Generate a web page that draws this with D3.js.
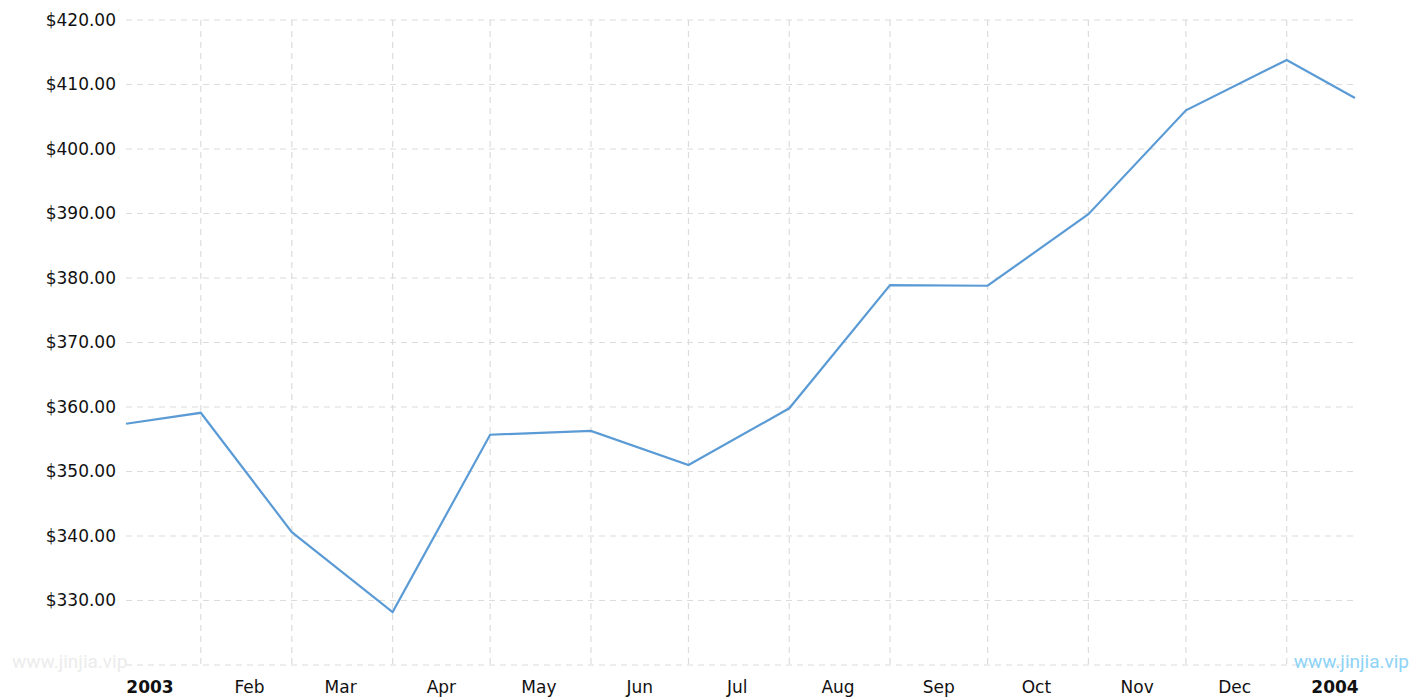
<!DOCTYPE html>
<meta charset="utf-8">
<style>
body { margin: 0; background: #fff; }
text { font-family: 'DejaVu Sans', Verdana, sans-serif; }
.grid line { stroke: #dcdcdc; stroke-dasharray: 6,5; stroke-width: 1.2; }
.wm { font-family: 'Roboto', sans-serif; font-size: 19px; font-weight: 400; }
</style>
<body>
<div class="viz"></div>
<script src="https://d3js.org/d3.v7.min.js"></script>
<script>
// monthly price points (date, value)
const dates = ["2003-01-09","2003-02-01","2003-03-01","2003-04-01","2003-05-01","2003-06-01","2003-07-01",
  "2003-08-01","2003-09-01","2003-10-01","2003-11-01","2003-12-01","2004-01-01","2004-01-22"];
const prices = [357.4, 359.1, 340.6, 328.2, 355.7, 356.3, 351.0, 359.8, 378.9, 378.8, 389.9, 406.0, 413.8, 407.9];
const yTicks = [320, 330, 340, 350, 360, 370, 380, 390, 400, 410, 420];
const monthLabels = ["2003","Feb","Mar","Apr","May","Jun","Jul","Aug","Sep","Oct","Nov","Dec","2004"];

const W = 1415, H = 700;
const margin = {top: 20, right: 60, bottom: 35, left: 126},
  width = W - margin.left - margin.right,
  height = H - margin.top - margin.bottom;

const parse = d3.timeParse("%Y-%m-%d");
const data = dates.map((d, i) => ({date: parse(d), value: prices[i]}));

const svg = d3.select(".viz").append("svg")
  .attr("width", W).attr("height", H)
  .append("g")
  .attr("transform", "translate(" + margin.left + "," + margin.top + ")");

const x = d3.scaleTime()
  .domain([data[0].date, data[data.length - 1].date])
  .range([0, width]);

const y = d3.scaleLinear()
  .domain([320, 420])
  .range([height, 0]);

// horizontal grid
svg.append("g").attr("class", "grid")
  .selectAll("line").data(yTicks).enter().append("line")
  .attr("x1", 0).attr("x2", width)
  .attr("y1", d => y(d)).attr("y2", d => y(d));

// vertical grid at month boundaries
const monthStarts = d3.timeMonth.range(d3.timeMonth.ceil(x.domain()[0]), x.domain()[1]);
svg.append("g").attr("class", "grid")
  .selectAll("line").data(monthStarts).enter().append("line")
  .attr("x1", d => x(d)).attr("x2", d => x(d))
  .attr("y1", 0).attr("y2", height);

// y labels
svg.append("g")
  .selectAll("text").data(yTicks.filter(d => d > 320)).enter().append("text")
  .attr("x", -10).attr("y", d => y(d))
  .attr("dy", "0.35em")
  .attr("text-anchor", "end")
  .style("font-size", "17px")
  .style("fill", "#111")
  .text(d => "$" + d.toFixed(2));

// x labels, mid-month
const monthMids = d3.timeMonth.range(new Date(2003, 0, 1), new Date(2004, 1, 1))
  .map(d => new Date(d.getFullYear(), d.getMonth(), 16));
svg.append("g")
  .selectAll("text").data(monthMids).enter().append("text")
  .attr("x", (d, i) => Math.min(Math.max(x(d), 24), width - 20))
  .attr("y", height + 28)
  .attr("text-anchor", "middle")
  .style("font-size", "17px")
  .style("font-weight", (d, i) => d.getMonth() === 0 ? "bold" : "normal")
  .style("fill", "#111")
  .text((d, i) => monthLabels[i]);

// price line
svg.append("path")
  .datum(data)
  .attr("fill", "none")
  .attr("stroke", "#5b9bd5")
  .attr("stroke-width", 2.2)
  .attr("d", d3.line().x(d => x(d.date)).y(d => y(d.value)));

// watermarks
svg.append("text").attr("class", "wm")
  .attr("x", -114).attr("y", height + 3)
  .style("fill", "#ececec")
  .text("www.jinjia.vip");
svg.append("text").attr("class", "wm")
  .attr("x", width + 54).attr("y", height + 3)
  .attr("text-anchor", "end")
  .style("fill", "#8dd3f7")
  .text("www.jinjia.vip");
</script>
</body>
